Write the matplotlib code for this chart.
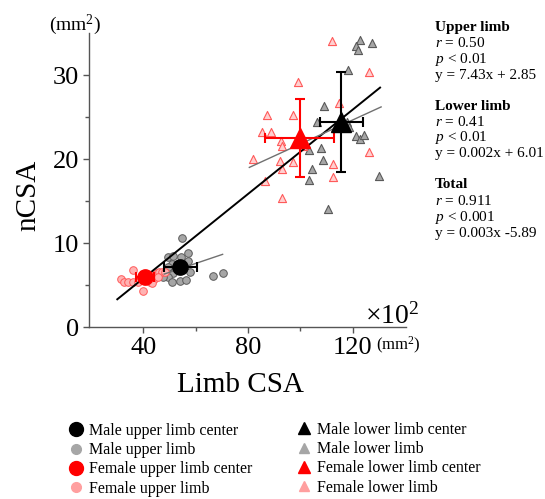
import matplotlib
matplotlib.use("Agg")
import matplotlib.pyplot as plt
from matplotlib.lines import Line2D

plt.rcParams['font.family'] = ['Liberation Serif', 'DejaVu Serif']
plt.rcParams['mathtext.fontset'] = 'custom'
plt.rcParams['mathtext.rm'] = 'Liberation Serif'
plt.rcParams['mathtext.it'] = 'Liberation Serif:italic'
plt.rcParams['mathtext.bf'] = 'Liberation Serif:bold'

# ---- data (Limb CSA x1e2 mm^2, nCSA mm^2) ----
male_upper_x = [54.7, 49.6, 51.5, 54.4, 57.2, 53.4, 50.9, 57.2, 49.3, 57.8, 51.5, 49.6, 51.1, 54.0, 56.3, 47.4, 66.7, 70.6]
male_upper_y = [10.6, 8.3, 8.4, 8.3, 8.8, 7.5, 7.5, 7.8, 7.1, 6.6, 6.4, 5.9, 5.4, 5.5, 5.6, 6.0, 6.1, 6.4]

female_upper_x = [31.5, 32.7, 34.3, 36.2, 36.2, 40.0, 42.6, 43.2, 44.2, 45.1, 46.0, 47.0, 48.3, 45.5, 43.4, 38.1]
female_upper_y = [5.7, 5.3, 5.3, 6.8, 5.3, 4.3, 5.3, 6.2, 5.7, 6.4, 6.6, 6.5, 6.5, 5.9, 5.2, 5.4]

male_lower_x = [122.8, 121.2, 121.8, 127.4, 118.1, 108.9, 106.5, 116.5, 117.7, 118.4, 121.2, 122.6, 124.3,
                103.1, 107.8, 108.8, 104.3, 103.1, 129.9, 110.7]
male_lower_y = [34.2, 33.5, 33.0, 33.8, 30.6, 26.3, 24.4, 23.9, 24.4, 23.8, 22.7, 22.4, 22.9,
                21.1, 21.3, 19.9, 18.8, 17.5, 18.0, 14.1]

female_lower_x = [112.0, 99.0, 126.1, 114.9, 87.2, 97.3, 85.5, 88.7, 92.5, 92.9, 100.9, 81.8, 92.2, 97.3,
                  92.9, 86.5, 92.9, 126.1, 112.4, 112.4]
female_lower_y = [34.0, 29.2, 30.4, 26.7, 25.2, 25.2, 23.2, 23.2, 22.1, 21.5, 21.5, 20.0, 19.8, 19.6,
                  18.8, 17.4, 15.3, 20.8, 19.4, 17.9]

# centers: x, y, xerr, yerr
male_upper_center = [54.2, 7.1, 6.2, 0.6]
female_upper_center = [40.6, 6.0, 3.5, 0.6]
male_lower_center = [115.6, 24.4, 8.3, 5.9]
female_lower_center = [99.7, 22.5, 13.2, 4.65]

# regression lines (end points)
total_fit_x = [30.1, 130.4]
total_fit_y = [3.3, 28.5]
upper_fit_x = [48.0, 70.3]
upper_fit_y = [6.3, 8.65]
lower_fit_x = [80.5, 130.8]
lower_fit_y = [19.0, 26.2]

x_ticks = [40, 80, 120]
y_ticks = [0, 10, 20, 30]

# ---- figure ----
W, H = 545, 499
fig = plt.figure(figsize=(W / 100, H / 100), dpi=100)
ax = fig.add_axes([89 / W, 1 - 327 / H, (406 - 89) / W, (327 - 33) / H])

GRAY_F, GRAY_E = '#a6a6a6', '#5a5a5a'
PINK_F, PINK_E = '#ffb3b3', '#ff5a5a'
PINKT_F = '#ffd0d0'

ax.scatter(male_upper_x, male_upper_y, s=30, marker='o', facecolor=GRAY_F, edgecolor=GRAY_E, linewidths=0.7, zorder=3)
ax.scatter(female_upper_x, female_upper_y, s=30, marker='o', facecolor=PINK_F, edgecolor=PINK_E, linewidths=0.7, zorder=3)
ax.scatter(male_lower_x, male_lower_y, s=34, marker='^', facecolor=GRAY_F, edgecolor=GRAY_E, linewidths=0.8, zorder=3)
ax.scatter(female_lower_x, female_lower_y, s=34, marker='^', facecolor=PINKT_F, edgecolor=PINK_E, linewidths=0.8, zorder=3)

ax.plot(total_fit_x, total_fit_y, color='black', lw=1.4, zorder=4)
ax.plot(upper_fit_x, upper_fit_y, color='#707070', lw=1.0, zorder=4)
ax.plot(lower_fit_x, lower_fit_y, color='#707070', lw=1.0, zorder=4)

for c, col, mk, ms in [(male_upper_center, 'black', 'o', 11),
                       (female_upper_center, 'red', 'o', 11),
                       (male_lower_center, 'black', '^', 14),
                       (female_lower_center, 'red', '^', 14)]:
    ax.errorbar(c[0], c[1], xerr=c[2], yerr=c[3], fmt=mk, color=col, ms=ms,
                ecolor=col, elinewidth=1.5, capsize=3.5, capthick=1.5, zorder=5)

ax.set_xlim(19.3, 140.3)
ax.set_ylim(0, 35)
ax.set_xticks(x_ticks)
ax.set_yticks(y_ticks)
ax.set_xticks([60, 100], minor=True)
ax.set_yticks([5, 15, 25], minor=True)
ax.set_xticklabels([str(v) for v in x_ticks], fontsize=19)
ax.set_yticklabels([str(v) for v in y_ticks], fontsize=19)
ax.tick_params(axis='both', which='major', length=4, width=1, color='#555555', pad=3)
ax.tick_params(axis='both', which='minor', length=3, width=1, color='#555555')
for s in ['top', 'right']:
    ax.spines[s].set_visible(False)
for s in ['left', 'bottom']:
    ax.spines[s].set_color('#555555')
    ax.spines[s].set_linewidth(1.0)

fig.text(240 / W, 1 - 385 / H, 'Limb CSA', fontsize=21, ha='center', va='center')
fig.text(28 / W, 1 - 195 / H, 'nCSA', fontsize=21, ha='center', va='center', rotation=90)
fig.text(75 / W, 1 - 25 / H, '(mm$^2$)', fontsize=14, ha='center', va='center')
fig.text(398 / W, 1 - 345 / H, '(mm$^2$)', fontsize=12, ha='center', va='center')
fig.text(392 / W, 1 - 316 / H, '×10$^2$', fontsize=20, ha='center', va='center')

# statistics text
tx = 435 / W
blocks = [
    (27, 'Upper limb', ['$r$ = 0.50', '$p$ < 0.01', 'y = 7.43x + 2.85']),
    (106, 'Lower limb', ['$r$ = 0.41', '$p$ < 0.01', 'y = 0.002x + 6.01']),
    (185, 'Total', ['$r$ = 0.911', '$p$ < 0.001', 'y = 0.003x -5.89']),
]
for y0, title, lines in blocks:
    fig.text(tx, 1 - y0 / H, title, fontsize=11, fontweight='bold', va='center', ha='left')
    for i, ln in enumerate(lines):
        fig.text(tx, 1 - (y0 + 16 * (i + 1)) / H, ln, fontsize=11, va='center', ha='left')

# legends
h_left = [
    Line2D([], [], ls='none', marker='o', ms=10, color='black'),
    Line2D([], [], ls='none', marker='o', ms=7, color='#a6a6a6'),
    Line2D([], [], ls='none', marker='o', ms=10, color='red'),
    Line2D([], [], ls='none', marker='o', ms=7, color='#ff9f9f'),
]
l_left = ['Male upper limb center', 'Male upper limb', 'Female upper limb center', 'Female upper limb']
h_right = [
    Line2D([], [], ls='none', marker='^', ms=9, color='black'),
    Line2D([], [], ls='none', marker='^', ms=7, color='#a6a6a6'),
    Line2D([], [], ls='none', marker='^', ms=9, color='red'),
    Line2D([], [], ls='none', marker='^', ms=7, color='#ff9f9f'),
]
l_right = ['Male lower limb center', 'Male lower limb', 'Female lower limb center', 'Female lower limb']
leg_kw = dict(frameon=False, fontsize=11.5, handlelength=0.8, handletextpad=0.4,
              labelspacing=0.2, borderaxespad=0, borderpad=0, loc='upper left')
fig.legend(h_left, l_left, bbox_to_anchor=(70 / W, 1 - 423 / H), **leg_kw)
fig.legend(h_right, l_right, bbox_to_anchor=(298 / W, 1 - 422 / H), **leg_kw)

fig.savefig('out.png', dpi=100)
